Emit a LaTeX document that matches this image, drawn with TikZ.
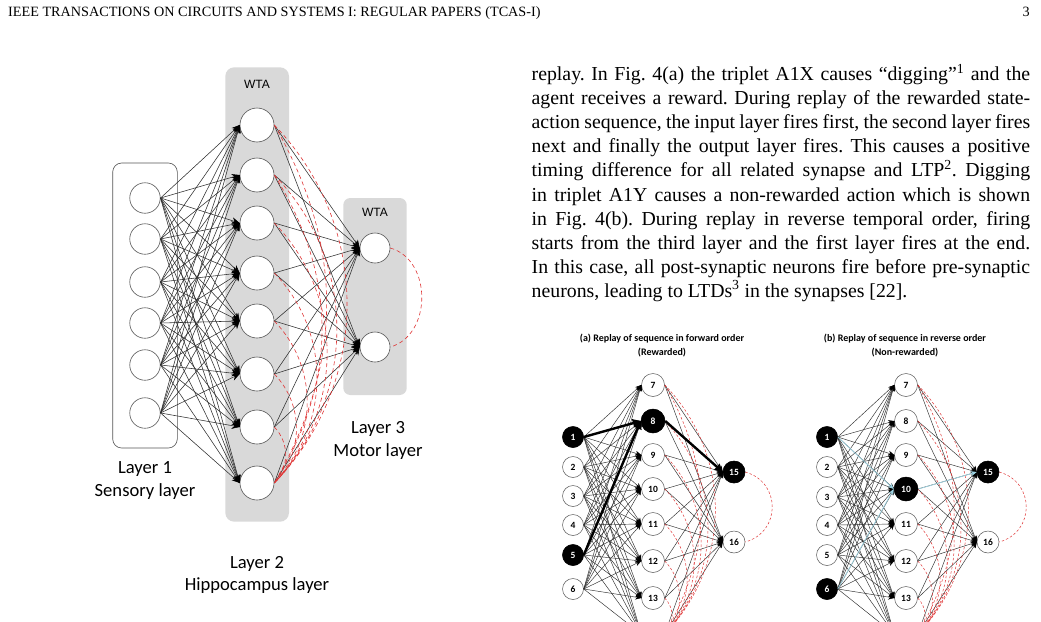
\documentclass[tikz,border=0pt]{standalone}
\usepackage{fontspec}
\setmainfont{Liberation Serif}
\newfontfamily\calfont{Carlito}
\newfontfamily\arialfont{Liberation Sans}
\usetikzlibrary{arrows.meta}
\definecolor{boxgray}{HTML}{D9D9D9}
\definecolor{linegray}{HTML}{2E2E2E}
\definecolor{dashred}{HTML}{E03434}
\definecolor{lightblue}{HTML}{9FD4E3}
\definecolor{circgray}{HTML}{555555}
\frenchspacing
\begin{document}
\begin{tikzpicture}[x=1pt,y=-1pt,
  bodyline/.style={anchor=base west, inner sep=0pt, font=\fontsize{19.8}{24}\selectfont},
  neuron/.style={circle, draw=circgray, fill=white, line width=0.6pt, inner sep=0pt},
  syn/.style={draw=linegray, line width=0.55pt, -{Stealth[length=8pt,width=6.5pt,black]}},
  reddash/.style={draw=dashred, line width=0.6pt, dash pattern=on 4pt off 3pt},
  lbl/.style={font=\calfont\fontsize{18.6}{22.6}\selectfont, align=center, inner sep=0pt},
  wta/.style={font=\arialfont\fontsize{12}{14}\selectfont, inner sep=0pt},
  pnode/.style={circle, draw=circgray, fill=white, line width=0.5pt, inner sep=0pt, font=\calfont\bfseries\fontsize{9.5}{11}\selectfont},
  pblack/.style={pnode, fill=black, draw=black, text=white},
  psyn/.style={draw=linegray, line width=0.45pt, -{Stealth[length=6pt,width=5pt,black]}},
  pdash/.style={draw=dashred, line width=0.5pt, dash pattern=on 2.5pt off 2pt},
  boldarrow/.style={draw=black, line width=2.4pt, -{Triangle[length=8pt,width=8pt]}},
  blueline/.style={draw=lightblue, line width=0.7pt, -{Stealth[length=6pt,width=5pt]}},
  ptitle/.style={font=\calfont\bfseries\fontsize{10}{13.3}\selectfont, align=center, inner sep=0pt}
]
\useasboundingbox (0,0) rectangle (1041,621);
\clip (0,0) rectangle (1041,621);
\fill[white] (0,0) rectangle (1041,621);

% header
\node[anchor=base west, inner sep=0pt, font=\fontsize{14.2}{16}\selectfont] (hdr) at (8,16.5) {IEEE TRANSACTIONS ON CIRCUITS AND SYSTEMS I: REGULAR PAPERS (TCAS-I)};
\node[anchor=base east, inner sep=0pt, font=\fontsize{14.2}{16}\selectfont] (pg) at (1030,16.5) {3};

% body text
\node[bodyline] (t1) at (531.5,80.7) {\makebox[498.5pt][s]{replay. In Fig. 4(a) the triplet A1X causes “digging”\textsuperscript{1} and the}};
\node[bodyline] (t2) at (531.5,104.77) {\makebox[498.5pt][s]{agent receives a reward. During replay of the rewarded state-}};
\node[bodyline] (t3) at (531.5,128.84) {\makebox[498.5pt][s]{action sequence, the input layer fires first, the second layer fires}};
\node[bodyline] (t4) at (531.5,152.91) {\makebox[498.5pt][s]{next and finally the output layer fires. This causes a positive}};
\node[bodyline] (t5) at (531.5,176.98) {\makebox[498.5pt][s]{timing difference for all related synapse and LTP\textsuperscript{2}. Digging}};
\node[bodyline] (t6) at (531.5,201.05) {\makebox[498.5pt][s]{in triplet A1Y causes a non-rewarded action which is shown}};
\node[bodyline] (t7) at (531.5,225.12) {\makebox[498.5pt][s]{in Fig. 4(b). During replay in reverse temporal order, firing}};
\node[bodyline] (t8) at (531.5,249.19) {\makebox[498.5pt][s]{starts from the third layer and the first layer fires at the end.}};
\node[bodyline] (t9) at (531.5,273.26) {\makebox[498.5pt][s]{In this case, all post-synaptic neurons fire before pre-synaptic}};
\node[bodyline] (t10) at (531.5,297.33) {neurons, leading to LTDs\textsuperscript{3} in the synapses [22].};

% ===== left figure =====
\draw[rounded corners=9pt, draw=circgray, line width=0.6pt] (112.7,163) rectangle (177.3,448);
\fill[boxgray, rounded corners=9pt] (225.3,67.3) rectangle (289,521.7);
\fill[boxgray, rounded corners=7pt] (343.3,198) rectangle (406.7,395);
\node[wta] (wta2) at (257,84.3) {WTA};
\node[wta] (wta3) at (375,212.7) {WTA};

\foreach \y [count=\i] in {198,239,282,323,365,413}
  \node[neuron, minimum size=30.5pt] (a\i) at (145,\y) {};
\foreach \y [count=\i] in {125,175,223,273,321,374,427,483}
  \node[neuron, minimum size=34pt] (b\i) at (257,\y) {};
\node[neuron, minimum size=30pt] (c1) at (375,248) {};
\node[neuron, minimum size=30pt] (c2) at (375,347) {};

\foreach \i in {1,...,6}
  \foreach \j in {1,...,8}
    \draw[syn] (a\i.east) -- (b\j.west);
\foreach \j in {1,...,8}
  \foreach \k in {1,2}
    \draw[syn] (b\j.east) -- (c\k.west);
\foreach \j in {1,...,7}
  \draw[reddash] (b\j.east) to[bend left=44] (b8.east);
\draw[reddash] (b1.east) to[bend left=30] (b8.east);
\draw[reddash] (b2.east) to[bend left=32] (b8.east);
\draw[reddash] (c1.east) .. controls +(42,12) and +(42,-12) .. (c2.east);

\node[lbl] (l1) at (145,480.5) {Layer 1\\Sensory layer};
\node[lbl] (l2) at (257,575) {Layer 2\\Hippocampus layer};
\node[lbl] (l3) at (378,440.5) {Layer 3\\Motor layer};

% ===== panels =====
\node[ptitle] (ta) at (662,345.5) {(a) Replay of sequence in forward order\\(Rewarded)};
\node[ptitle] (tb) at (905,345.5) {(b) Replay of sequence in reverse order\\(Non-rewarded)};

% panel a nodes
\foreach \y [count=\i] in {437,467,496,525,555,589}
  \node[pnode, minimum size=21pt] (pa\i) at (573,\y) {\i};
\foreach \y [count=\i from 7] in {385,421,455,489,524,561,598}
  \node[pnode, minimum size=23pt] (pa\i) at (653,\y) {\i};
\node[pnode, minimum size=23pt] (pa14) at (653,634) {};
\node[pnode, minimum size=22pt] (pa15) at (734,472) {15};
\node[pnode, minimum size=22pt] (pa16) at (734,542) {16};
% panel b nodes
\foreach \y [count=\i] in {437,467,497,525,555,589}
  \node[pnode, minimum size=21pt] (pb\i) at (827,\y) {\i};
\foreach \y [count=\i from 7] in {385,421,455,489,524,561,598}
  \node[pnode, minimum size=23pt] (pb\i) at (906,\y) {\i};
\node[pnode, minimum size=23pt] (pb14) at (906,634) {};
\node[pnode, minimum size=22pt] (pb15) at (988,472) {15};
\node[pnode, minimum size=22pt] (pb16) at (988,542) {16};

\foreach \p in {pa,pb}{
  \foreach \i in {1,...,6}
    \foreach \j in {7,...,14}
      \draw[psyn] (\p\i.east) -- (\p\j.west);
  \foreach \j in {7,...,14}
    \foreach \k in {15,16}
      \draw[psyn] (\p\j.east) -- (\p\k.west);
  \foreach \j in {7,...,13}
    \draw[pdash] (\p\j.east) to[bend left=44] (\p14.east);
  \draw[pdash] (\p7.east) to[bend left=30] (\p14.east);
  \draw[pdash] (\p15.east) .. controls +(36,10) and +(36,-10) .. (\p16.east);
}

% highlighted nodes
\node[pblack, minimum size=21pt] (pa1) at (pa1) {1};
\node[pblack, minimum size=21pt] (pa5) at (pa5) {5};
\node[pblack, minimum size=24pt] (pa8) at (pa8) {8};
\node[pblack, minimum size=22pt] (pa15) at (pa15) {15};
\node[pblack, minimum size=21pt] (pb1) at (pb1) {1};
\node[pblack, minimum size=21pt] (pb6) at (pb6) {6};
\node[pblack, minimum size=24pt] (pb10) at (pb10) {10};
\node[pblack, minimum size=22pt] (pb15) at (pb15) {15};

\draw[boldarrow] (pa1.east) -- (pa8.west);
\draw[boldarrow] (pa5.east) -- (pa8.west);
\draw[boldarrow] (pa8.east) -- (pa15.west);

\draw[blueline] (pb1.east) -- (pb10.west);
\draw[blueline] (pb6.east) -- (pb10.west);
\draw[blueline] (pb10.east) -- (pb15.west);
\end{tikzpicture}
\end{document}
